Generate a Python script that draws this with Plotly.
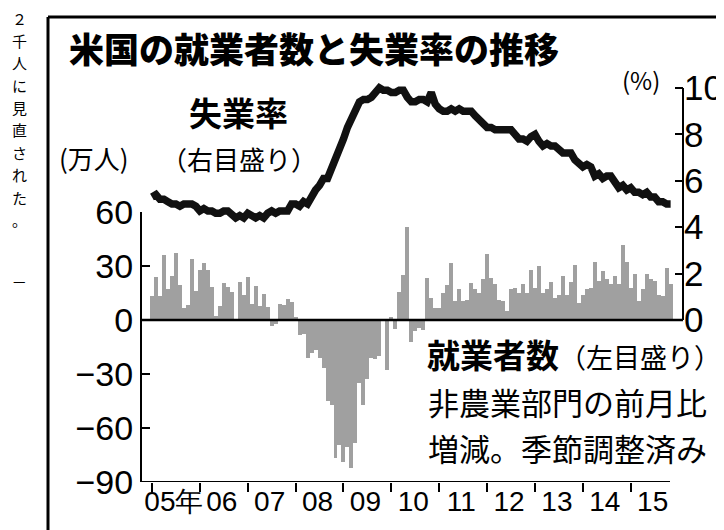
import plotly.graph_objects as go

# ---------------- data ----------------
year_labels = ["05年", "06", "07", "08", "09", "10", "11", "12", "13", "14", "15"]

# 非農業部門雇用者数 前月比増減 (万人), 2005年1月〜2015年11月
jobs_2005 = [13.4, 23.9, 13.4, 36.3, 17.5, 24.3, 37.1, 19.7, 6.7, 8.5, 33.7, 15.9]
jobs_2006 = [27.7, 31.5, 28.0, 18.2, 2.3, 7.7, 20.7, 18.4, 15.7, 0.2, 21.0, 14.0]
jobs_2007 = [23.8, 8.8, 19.0, 8.0, 14.3, 7.5, -3.4, -2.0, 8.8, 8.4, 11.4, 9.8]
jobs_2008 = [1.7, -8.4, -7.8, -21.0, -18.5, -16.5, -20.9, -26.6, -45.2, -47.3, -76.9, -69.5]
jobs_2009 = [-79.1, -70.3, -82.3, -68.6, -35.1, -47.0, -32.9, -21.2, -21.9, -20.0, 0.5, -28.0]
jobs_2010 = [1.8, -5.0, 15.6, 25.1, 51.6, -12.2, -6.1, -4.2, -5.7, 23.6, 12.0, 6.6]
jobs_2011 = [6.6, 15.0, 19.6, 31.5, 10.4, 17.0, 10.4, 11.3, 20.8, 17.0, 15.0, 22.6]
jobs_2012 = [36.5, 23.6, 20.0, 11.3, 10.4, 5.0, 17.0, 18.0, 15.0, 20.0, 15.0, 28.0]
jobs_2013 = [18.0, 30.0, 15.0, 17.0, 21.0, 12.0, 14.0, 24.5, 14.0, 21.0, 30.8, 9.4]
jobs_2014 = [14.0, 17.0, 18.0, 32.0, 21.7, 27.4, 22.6, 19.8, 24.5, 19.8, 41.5, 32.0]
jobs_2015 = [18.0, 25.8, 10.4, 17.0, 25.5, 22.6, 21.7, 14.0, 13.2, 28.7, 19.8]

# 失業率 (%)
rate_2005 = [5.3, 5.4, 5.2, 5.2, 5.1, 5.0, 5.0, 4.9, 5.0, 5.0, 5.0, 4.9]
rate_2006 = [4.7, 4.8, 4.7, 4.7, 4.6, 4.6, 4.7, 4.7, 4.5, 4.4, 4.5, 4.4]
rate_2007 = [4.6, 4.5, 4.4, 4.5, 4.4, 4.6, 4.7, 4.6, 4.7, 4.7, 4.7, 5.0]
rate_2008 = [5.0, 4.9, 5.1, 5.0, 5.4, 5.6, 5.8, 6.1, 6.1, 6.5, 6.8, 7.3]
rate_2009 = [7.8, 8.3, 8.7, 9.0, 9.4, 9.5, 9.5, 9.6, 9.8, 10.0, 9.9, 9.9]
rate_2010 = [9.8, 9.8, 9.9, 9.9, 9.6, 9.4, 9.4, 9.5, 9.5, 9.4, 9.8, 9.3]
rate_2011 = [9.1, 9.0, 9.0, 9.1, 9.0, 9.1, 9.0, 9.0, 9.0, 8.8, 8.6, 8.5]
rate_2012 = [8.3, 8.3, 8.2, 8.2, 8.2, 8.2, 8.2, 8.0, 7.8, 7.8, 7.7, 7.9]
rate_2013 = [8.0, 7.7, 7.5, 7.6, 7.5, 7.5, 7.3, 7.2, 7.2, 7.2, 6.9, 6.7]
rate_2014 = [6.6, 6.7, 6.6, 6.2, 6.3, 6.1, 6.2, 6.2, 5.9, 5.7, 5.8, 5.6]
rate_2015 = [5.7, 5.5, 5.5, 5.4, 5.5, 5.3, 5.3, 5.1, 5.1, 5.0, 5.0]

left_ticks = [-90, -60, -30, 0, 30, 60]
right_ticks = [0, 2, 4, 6, 8, 10]

side_text = "２千人に見直された。"

jobs = (jobs_2005 + jobs_2006 + jobs_2007 + jobs_2008 + jobs_2009 + jobs_2010 +
        jobs_2011 + jobs_2012 + jobs_2013 + jobs_2014 + jobs_2015)
rate = (rate_2005 + rate_2006 + rate_2007 + rate_2008 + rate_2009 + rate_2010 +
        rate_2011 + rate_2012 + rate_2013 + rate_2014 + rate_2015)
months = list(range(len(jobs)))  # 0 = 2005年1月

# ---------------- layout helpers ----------------
# the page body has an 8px margin, so the figure is drawn 8px right/down
OFF = 8
W, H = 724 - OFF, 530 - OFF
PW, PH = 541, 408
L, T = 142 - OFF, 74 - OFF
R, B = W - L - PW, H - T - PH


def px(x):  # screen x -> paper
    return (x - OFF - L) / PW


def py(y):  # screen y -> paper
    return (T + PH - (y - OFF)) / PH


JP = "Noto Sans CJK JP"
NUM = "'Liberation Sans Narrow', 'Liberation Sans', Arial, sans-serif"

fig = go.Figure()
fig.add_bar(x=months, y=jobs, xaxis="x", yaxis="y",
            marker=dict(color="#a0a0a0", line=dict(width=0)))
fig.add_scatter(x=months, y=rate, xaxis="x", yaxis="y2", mode="lines",
                line=dict(color="#111111", width=7.5))

fig.update_layout(
    width=W, height=H,
    margin=dict(l=L, r=R, t=T, b=B, autoexpand=False),
    paper_bgcolor="white", plot_bgcolor="rgba(0,0,0,0)",
    showlegend=False, bargap=0,
    font=dict(family=JP, color="black"),
    xaxis=dict(
        anchor="y", domain=[0, 1], range=[-2.5, 133.1], automargin=False,
        tickmode="array", tickvals=[12 * k + 5.5 for k in range(len(year_labels))],
        ticktext=year_labels, tickangle=0, ticks="", showline=False, showgrid=False,
        zeroline=False, ticklabelstandoff=0,
        tickfont=dict(family=NUM, size=28, color="black"),
        minor=dict(tickmode="array", tickvals=[12 * k for k in range(len(year_labels))],
                   ticks="outside", ticklen=9, tickwidth=2, tickcolor="black", showgrid=False),
    ),
    yaxis=dict(
        anchor="x", domain=[0, py(212)], range=[-90, 60], automargin=False,
        tickmode="array", tickvals=left_ticks, ticks="inside", ticklen=8, tickwidth=2,
        tickcolor="black", showline=True, linecolor="black", linewidth=2,
        showgrid=False, zeroline=False,
        tickfont=dict(family=NUM, size=34, color="black"),
    ),
    yaxis2=dict(
        anchor="x", side="right", domain=[py(320), 1], range=[0, 10.6], automargin=False,
        tickmode="array", tickvals=right_ticks, ticks="inside", ticklen=8, tickwidth=2,
        tickcolor="black", showline=False, showgrid=False, zeroline=False,
        tickfont=dict(family=NUM, size=35, color="black"),
    ),
)

shapes = [
    dict(type="line", xref="paper", yref="y", x0=0, x1=1, y0=0, y1=0,
         line=dict(color="black", width=2.5), layer="above"),
    dict(type="line", xref="paper", yref="y", x0=0, x1=px(670), y0=-90, y1=-90,
         line=dict(color="black", width=2), layer="above"),
    dict(type="line", xref="paper", yref="y2", x0=1, x1=1, y0=0, y1=10,
         line=dict(color="black", width=2), layer="above"),
    dict(type="line", xref="paper", yref="paper", x0=px(48), x1=px(48), y0=py(17), y1=py(545),
         line=dict(color="black", width=3)),
    dict(type="line", xref="paper", yref="paper", x0=px(48), x1=px(740), y0=py(17), y1=py(17),
         line=dict(color="black", width=3)),
]
fig.update_layout(shapes=shapes)


def ann(text, x, y, size, xanchor="left", yanchor="middle", weight=None):
    f = dict(family=JP, size=size, color="black")
    if weight:
        f["weight"] = weight
    fig.add_annotation(text=text, x=px(x), y=py(y), xref="paper", yref="paper",
                       xanchor=xanchor, yanchor=yanchor, showarrow=False, font=f,
                       borderpad=0)


ann("米国の就業者数と失業率の推移", 68, 47, 35, weight=900)
ann("失業率", 188, 112, 33, weight=700)
ann("（右目盛り）", 160, 158, 26)
ann("(万人)", 58, 157, 26)
ann("(%)", 621, 80, 24)
ann("<b>就業者数</b><span style='font-size:27px'>（左目盛り）</span>", 426, 354, 33)
ann("非農業部門の前月比", 427, 401, 31)
ann("増減。季節調整済み", 427, 447, 31)
for k, ch in enumerate(side_text):
    ann(ch, 19, 18 + 22.4 * k, 15, xanchor="center")
ann("—", 19, 280, 14, xanchor="center")

fig.write_html("out.html")
